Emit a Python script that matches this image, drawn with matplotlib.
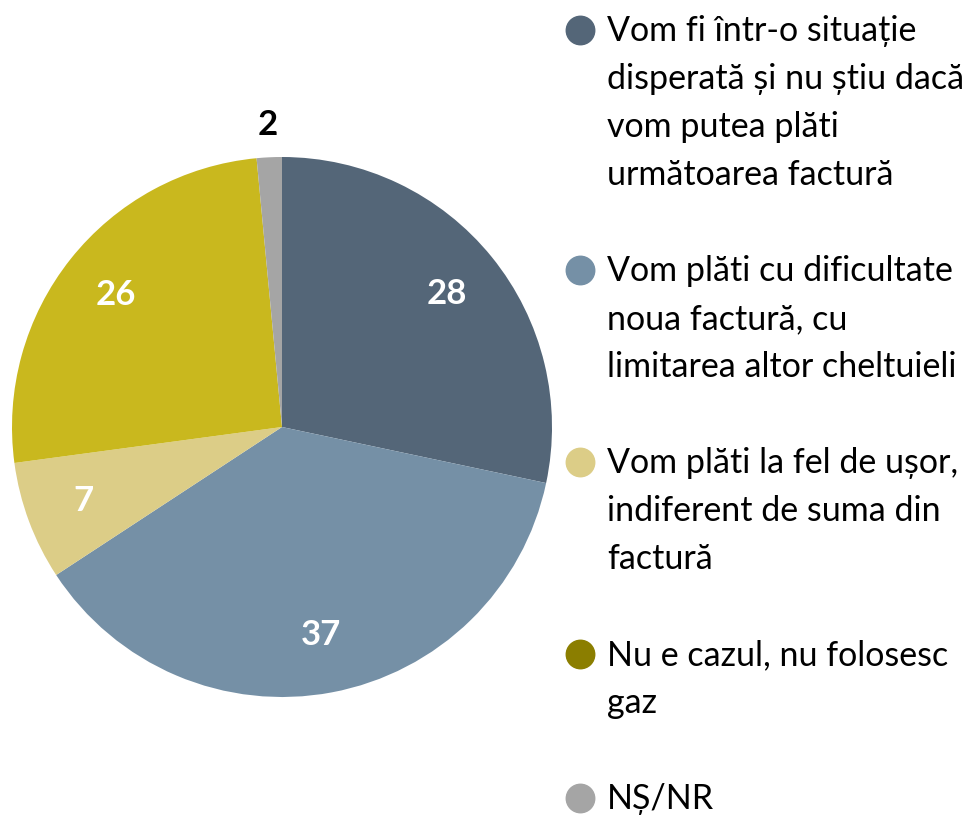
import numpy as np
import matplotlib
matplotlib.use("Agg")
import matplotlib.pyplot as plt
from matplotlib.lines import Line2D

categories = [
    "Vom fi într-o situație\ndisperată și nu știu dacă\nvom putea plăti\nurmătoarea factură",
    "Vom plăti cu dificultate\nnoua factură, cu\nlimitarea altor cheltuieli",
    "Vom plăti la fel de ușor,\nindiferent de suma din\nfactură",
    "Nu e cazul, nu folosesc\ngaz",
    "NȘ/NR",
]
# shares as measured from slice angles; printed labels are rounded
shares = [28.3, 37.4, 7.1, 25.6, 1.5]
value_labels = ["28", "37", "7", "26", "2"]
slice_colors = ["#546678", "#7590A6", "#DCCD87", "#C9B81E", "#A5A5A5"]
legend_colors = ["#546678", "#7590A6", "#DCCD87", "#8B7E00", "#A5A5A5"]
label_colors = ["white", "white", "white", "white", "black"]

FONT = ["Lato", "DejaVu Sans"]
plt.rcParams["font.family"] = FONT

W, H = 972, 815
fig = plt.figure(figsize=(W / 100, H / 100), dpi=100)

cx, cy, R = 282, 427, 270
ax = fig.add_axes([(cx - R) / W, (H - cy - R) / H, 2 * R / W, 2 * R / H])
wedges, _ = ax.pie(shares, colors=slice_colors, startangle=90, counterclock=False,
                   radius=1.0, wedgeprops=dict(linewidth=0))
ax.set_xlim(-1, 1)
ax.set_ylim(-1, 1)
ax.set_aspect("equal")
ax.axis("off")

for i, w in enumerate(wedges):
    ang = np.deg2rad((w.theta1 + w.theta2) / 2)
    r = 1.12 if shares[i] < 5 else 0.785
    ax.text(r * np.cos(ang), r * np.sin(ang), value_labels[i], ha="center", va="center",
            color=label_colors[i], fontsize=25, fontweight="bold", clip_on=False)

# legend drawn manually
marker_x = 580
text_x = 607
line_h = 48
y = 30
for lab, col in zip(categories, legend_colors):
    lines = lab.split("\n")
    fig.add_artist(Line2D([marker_x / W], [1 - y / H], marker="o", markersize=20.5,
                          color=col, linestyle="none", transform=fig.transFigure))
    for j, ln in enumerate(lines):
        fig.text(text_x / W, 1 - (y + 11 + j * line_h) / H, ln, ha="left", va="baseline",
                 fontsize=24.5, color="black")
    y += (len(lines) + 1) * line_h

fig.savefig("out.png", dpi=100, facecolor="white")
